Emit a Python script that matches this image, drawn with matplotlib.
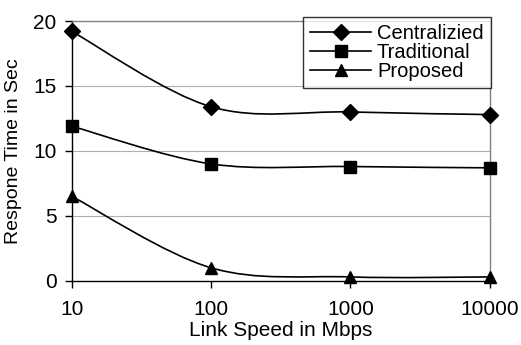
import numpy as np
import matplotlib.pyplot as plt
from matplotlib.path import Path
from matplotlib.patches import PathPatch
from matplotlib.lines import Line2D

plt.rcParams['font.family'] = ['Liberation Sans', 'DejaVu Sans']

link_speed = [10, 100, 1000, 10000]
centralized = [19.2, 13.4, 13.0, 12.8]
traditional = [11.9, 9.0, 8.8, 8.7]
proposed = [6.5, 1.0, 0.3, 0.3]
series = [("Centralizied", centralized, "D"),
          ("Traditional", traditional, "s"),
          ("Proposed", proposed, "^")]


def smooth_path(xs, ys):
    # Excel-style smoothed line: cubic Bezier segments in (log x, y) space
    lx = np.log10(xs)
    pts = np.column_stack([lx, ys])
    n = len(pts)
    verts = [pts[0]]
    codes = [Path.MOVETO]
    for i in range(n - 1):
        p0 = pts[max(i - 1, 0)]
        p1 = pts[i]
        p2 = pts[i + 1]
        p3 = pts[min(i + 2, n - 1)]
        c1 = p1 + (p2 - p0) / 6.0
        c2 = p2 - (p3 - p1) / 6.0
        verts += [c1, c2, p2]
        codes += [Path.CURVE4] * 3
    verts = np.array(verts)
    verts[:, 0] = 10 ** verts[:, 0]
    return Path(verts, codes)


fig = plt.figure(figsize=(5.21, 3.45), dpi=100)
ax = fig.add_axes([0.138, 0.186, 0.802, 0.753])
ax.set_xscale('log')
ax.set_xlim(10, 10000)
ax.set_ylim(0, 20)

for y in [5, 10, 15]:
    ax.axhline(y, color='#b0b0b0', lw=0.8, zorder=0)

handles = []
for name, vals, m in series:
    ms = 8 if m == 'D' else 9
    patch = PathPatch(smooth_path(link_speed, vals), fill=False, edgecolor='black',
                      lw=1.2, zorder=2, clip_on=False)
    ax.add_patch(patch)
    ax.plot(link_speed, vals, linestyle='none', marker=m, color='black',
            markersize=ms, zorder=3, clip_on=False)
    handles.append(Line2D([], [], color='black', lw=1.2, marker=m, markersize=ms))

ax.set_xticks(link_speed)
ax.set_xticklabels([str(v) for v in link_speed])
ax.xaxis.set_minor_locator(plt.NullLocator())
ax.set_yticks([0, 5, 10, 15, 20])
ax.tick_params(axis='both', labelsize=15, direction='out', length=5, width=1,
               colors='black')
ax.tick_params(axis='x', pad=9)
ax.tick_params(axis='y', pad=6)

ax.spines['left'].set_color('black')
ax.spines['bottom'].set_color('black')
ax.spines['top'].set_color('#808080')
ax.spines['right'].set_color('#808080')
for s in ax.spines.values():
    s.set_linewidth(1.0)

ax.set_xlabel("Link Speed in Mbps", fontsize=15, labelpad=1)
ax.set_ylabel("Respone Time in Sec", fontsize=14, labelpad=8)

leg = ax.legend(handles, [s[0] for s in series], loc='upper right',
                bbox_to_anchor=(1.002, 1.015), fontsize=14.5, frameon=True,
                fancybox=False, shadow=False, handlelength=3.0,
                labelspacing=0.0, borderpad=0.35, handletextpad=0.3,
                borderaxespad=0)
leg.get_frame().set_edgecolor('black')
leg.get_frame().set_linewidth(1.0)

fig.savefig("out.png", dpi=100)
